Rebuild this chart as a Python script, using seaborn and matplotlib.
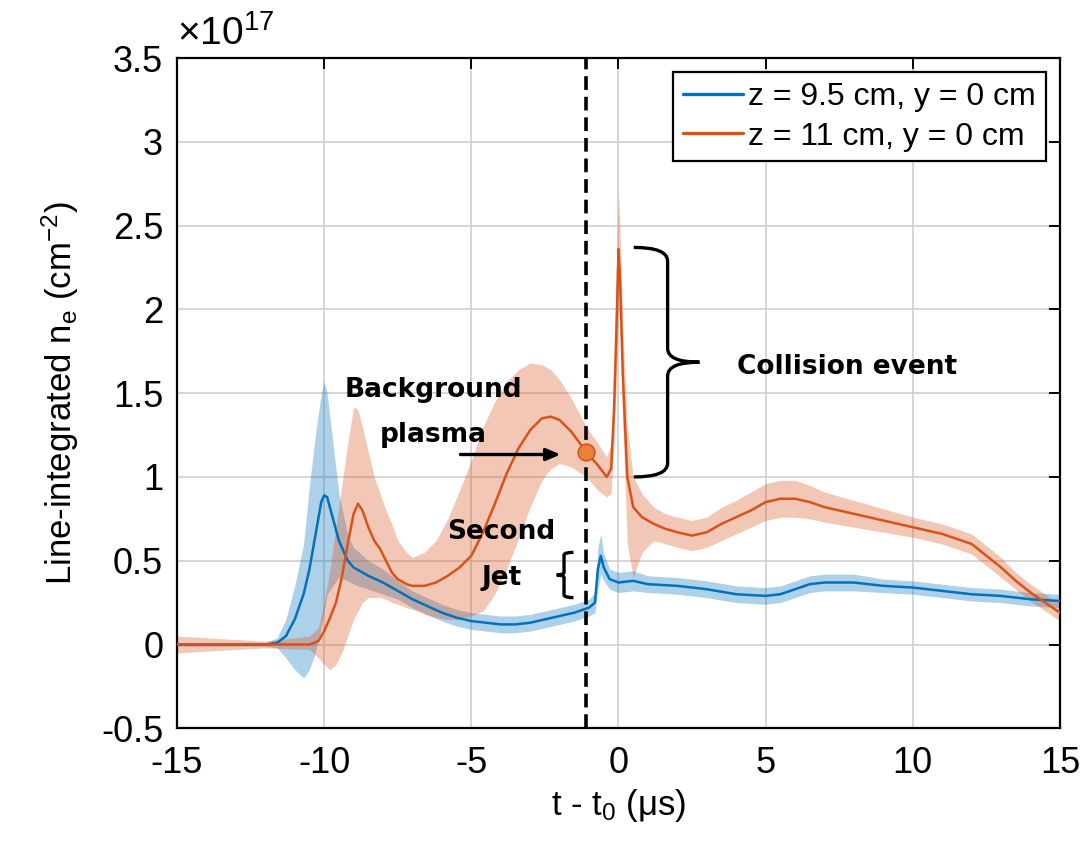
import numpy as np
import pandas as pd
import matplotlib
matplotlib.use("Agg")
import matplotlib.pyplot as plt
from matplotlib.path import Path
from matplotlib.patches import PathPatch
import seaborn as sns

# ---------------- data (units of 1e17 cm^-2) ----------------
t_blue = [-15, -12, -11.6, -11.3, -11.0, -10.7, -10.5, -10.3, -10.1, -10.0, -9.9, -9.7, -9.5,
          -9.2, -9.0, -8.5, -8.0, -7.5, -7.0, -6.5, -6.0, -5.5, -5.0, -4.5, -4.0, -3.5, -3.0,
          -2.5, -2.0, -1.5, -1.0, -0.8, -0.7, -0.6, -0.5, -0.3, 0.0, 0.5, 1.0, 2.0, 3.0, 4.0,
          5.0, 5.5, 6.0, 6.5, 7.0, 7.5, 8.0, 9.0, 10.0, 11.0, 12.0, 13.0, 14.0, 15.0]
ne_blue = [0.0, 0.0, 0.01, 0.05, 0.15, 0.30, 0.45, 0.65, 0.85, 0.89, 0.88, 0.75, 0.62,
           0.50, 0.46, 0.41, 0.37, 0.32, 0.27, 0.23, 0.19, 0.16, 0.14, 0.13, 0.12, 0.12, 0.13,
           0.15, 0.17, 0.19, 0.22, 0.25, 0.45, 0.53, 0.46, 0.39, 0.37, 0.38, 0.36, 0.35, 0.33, 0.30,
           0.29, 0.30, 0.33, 0.36, 0.37, 0.37, 0.37, 0.35, 0.34, 0.32, 0.30, 0.29, 0.27, 0.26]
lo_blue = [-0.01, -0.01, -0.02, -0.08, -0.15, -0.20, -0.15, -0.05, 0.10, 0.20, 0.30, 0.35, 0.40,
           0.38, 0.36, 0.33, 0.30, 0.27, 0.22, 0.18, 0.14, 0.11, 0.09, 0.08, 0.07, 0.07, 0.08,
           0.10, 0.12, 0.14, 0.17, 0.19, 0.33, 0.42, 0.38, 0.33, 0.31, 0.32, 0.31, 0.30, 0.28, 0.25,
           0.24, 0.25, 0.28, 0.31, 0.32, 0.32, 0.32, 0.31, 0.30, 0.28, 0.26, 0.25, 0.23, 0.22]
hi_blue = [0.01, 0.01, 0.04, 0.15, 0.35, 0.60, 0.95, 1.25, 1.50, 1.57, 1.50, 1.20, 0.90,
           0.65, 0.58, 0.50, 0.45, 0.38, 0.32, 0.28, 0.24, 0.21, 0.19, 0.18, 0.17, 0.17, 0.18,
           0.20, 0.22, 0.24, 0.27, 0.31, 0.58, 0.66, 0.54, 0.45, 0.43, 0.44, 0.41, 0.40, 0.38, 0.35,
           0.34, 0.35, 0.38, 0.41, 0.42, 0.42, 0.42, 0.39, 0.38, 0.36, 0.34, 0.33, 0.31, 0.30]

t_orange = [-15, -12, -10.5, -10.2, -10.0, -9.8, -9.6, -9.4, -9.2, -9.0, -8.85, -8.7, -8.5,
            -8.3, -8.1, -7.9, -7.7, -7.5, -7.2, -7.0, -6.6, -6.2, -5.8, -5.4, -5.0, -4.6, -4.2,
            -3.8, -3.4, -3.0, -2.6, -2.3, -2.0, -1.6, -1.1, -0.7, -0.4, -0.25, -0.15, -0.05, 0.0,
            0.05, 0.15, 0.3, 0.5, 0.8, 1.2, 1.6, 2.0, 2.5, 3.0, 3.5, 4.0, 4.5, 5.0, 5.5, 6.0, 6.5,
            7.0, 8.0, 9.0, 10.0, 10.5, 11.0, 11.5, 12.0, 12.5, 13.0, 13.5, 14.0, 14.5, 15.0]
ne_orange = [0.0, 0.0, 0.0, 0.02, 0.08, 0.16, 0.25, 0.40, 0.60, 0.78, 0.84, 0.80, 0.70,
             0.62, 0.57, 0.50, 0.43, 0.39, 0.36, 0.35, 0.35, 0.37, 0.41, 0.46, 0.53, 0.67, 0.84,
             1.02, 1.17, 1.28, 1.35, 1.36, 1.34, 1.27, 1.15, 1.07, 1.00, 1.05, 1.40, 2.00, 2.36,
             2.20, 1.60, 1.00, 0.82, 0.76, 0.72, 0.69, 0.67, 0.65, 0.67, 0.72, 0.76, 0.80, 0.85, 0.87,
             0.87, 0.85, 0.82, 0.78, 0.74, 0.70, 0.68, 0.66, 0.63, 0.60, 0.53, 0.46, 0.38, 0.31, 0.25, 0.19]
lo_orange = [-0.05, -0.02, -0.03, -0.08, -0.12, -0.15, -0.12, -0.05, 0.05, 0.15, 0.20, 0.25, 0.28,
             0.28, 0.28, 0.27, 0.25, 0.24, 0.22, 0.21, 0.18, 0.16, 0.15, 0.15, 0.17, 0.20, 0.30,
             0.45, 0.63, 0.82, 0.98, 1.05, 1.08, 1.06, 1.00, 0.92, 0.88, 0.90, 1.20, 1.70, 2.00,
             1.90, 1.30, 0.60, 0.40, 0.55, 0.62, 0.60, 0.58, 0.56, 0.58, 0.62, 0.66, 0.70, 0.74, 0.76,
             0.76, 0.75, 0.73, 0.70, 0.67, 0.64, 0.62, 0.60, 0.57, 0.54, 0.47, 0.40, 0.33, 0.26, 0.20, 0.14]
hi_orange = [0.05, 0.02, 0.05, 0.10, 0.25, 0.45, 0.70, 0.95, 1.20, 1.42, 1.40, 1.30, 1.15,
             1.00, 0.90, 0.80, 0.72, 0.62, 0.55, 0.52, 0.55, 0.62, 0.75, 0.92, 1.10, 1.30, 1.45,
             1.57, 1.64, 1.68, 1.67, 1.64, 1.58, 1.47, 1.30, 1.20, 1.12, 1.20, 1.70, 2.40, 2.70,
             2.50, 1.90, 1.30, 1.00, 0.90, 0.82, 0.78, 0.76, 0.74, 0.76, 0.82, 0.86, 0.91, 0.96, 0.98,
             0.98, 0.95, 0.91, 0.86, 0.81, 0.76, 0.74, 0.72, 0.69, 0.66, 0.59, 0.52, 0.43, 0.36, 0.30, 0.24]

series_labels = ["z = 9.5 cm, y = 0 cm", "z = 11 cm, y = 0 cm"]
series_colors = ["#0072BD", "#D95319"]

x_ticks = [-15, -10, -5, 0, 5, 10, 15]
y_ticks = [-0.5, 0, 0.5, 1, 1.5, 2, 2.5, 3, 3.5]

t_marker = -1.1          # time of the dashed line / marked point
ne_marker = 1.15

# ---------------- style ----------------
sns.set_theme(style="white")
plt.rcParams["font.family"] = ["Liberation Sans", "DejaVu Sans"]
plt.rcParams["mathtext.default"] = "regular"
plt.rcParams["axes.unicode_minus"] = False
plt.rcParams["text.color"] = "black"
plt.rcParams["axes.labelcolor"] = "black"
plt.rcParams["legend.labelcolor"] = "black"

fig = plt.figure(figsize=(10.86, 8.67), dpi=100)
ax = fig.add_axes([0.163, 0.160, 0.813, 0.773])

df = pd.concat([
    pd.DataFrame({"t": t_blue, "ne": ne_blue, "series": series_labels[0]}),
    pd.DataFrame({"t": t_orange, "ne": ne_orange, "series": series_labels[1]}),
], ignore_index=True)

# uncertainty bands
ax.fill_between(t_blue, lo_blue, hi_blue, color=series_colors[0], alpha=0.32, lw=0, zorder=1)
ax.fill_between(t_orange, lo_orange, hi_orange, color=series_colors[1], alpha=0.32, lw=0, zorder=1)

sns.lineplot(data=df, x="t", y="ne", hue="series", hue_order=series_labels,
             palette=series_colors, linewidth=1.8, ax=ax, zorder=3, sort=False,
             estimator=None)

ax.axvline(t_marker, color="black", lw=2.6, ls=(0, (3.8, 1.9)), zorder=4)
ax.plot([t_marker], [ne_marker], "o", ms=12, mfc="#E8823A", mec="#D95319", mew=1.2, zorder=5)

ax.set_xlim(-15, 15)
ax.set_ylim(-0.5, 3.5)
ax.set_xticks(x_ticks)
ax.set_yticks(y_ticks)
ax.set_xticklabels([f"{v:g}" for v in x_ticks])
ax.set_yticklabels([f"{v:g}" for v in y_ticks])
ax.grid(True, color="#d0d0d0", lw=1.2)
ax.set_axisbelow(True)
for s in ax.spines.values():
    s.set_visible(True)
    s.set_color("black")
    s.set_linewidth(1.6)
ax.tick_params(direction="in", length=8, width=1.4, top=True, right=True,
               labelsize=26, colors="black")
ax.tick_params(axis="x", pad=13)
ax.tick_params(axis="y", pad=10)

ax.set_xlabel("t - t$_0$ (μs)", fontsize=25, labelpad=4)
ax.set_ylabel("Line-integrated n$_e$ (cm$^{-2}$)", fontsize=25, labelpad=14)
ax.text(0.0, 1.008, "×10$^{17}$", transform=ax.transAxes, fontsize=28,
        ha="left", va="bottom")

# legend
handles, _ = ax.get_legend_handles_labels()
leg = ax.legend(handles=handles, labels=series_labels, loc="upper right", fontsize=23,
                frameon=True, fancybox=False, edgecolor="black", framealpha=1,
                handlelength=1.9, handletextpad=0.15, borderpad=0.3,
                labelspacing=0.3, borderaxespad=0.45)
leg.get_frame().set_linewidth(1.6)
for h in leg.get_lines():
    h.set_linewidth(2.4)

# annotations
bold = dict(family="DejaVu Sans", fontweight="bold", fontsize=19, color="black")
ax.text(-6.28, 1.48, "Background", ha="center", va="baseline", **bold)
ax.text(-6.28, 1.206, "plasma", ha="center", va="baseline", **bold)
ax.text(-3.97, 0.627, "Second", ha="center", va="baseline", **bold)
ax.text(-3.97, 0.358, "Jet", ha="center", va="baseline", **bold)
ax.text(4.03, 1.612, "Collision event", ha="left", va="baseline", **bold)

ax.annotate("", xy=(-1.97, 1.134), xytext=(-5.37, 1.134),
            arrowprops=dict(arrowstyle="-|>,head_length=0.7,head_width=0.3",
                            color="black", lw=2.4, shrinkA=0, shrinkB=0), zorder=6)


def brace(x_end, x_mid, x_tip, y_bot, y_top):
    """Curly brace path; x_tip side is where the point is."""
    ym = 0.5 * (y_bot + y_top)
    ry = 0.06 * (y_top - y_bot)
    verts = [(x_end, y_top), (x_mid, y_top), (x_mid, y_top - ry),
             (x_mid, ym + ry), (x_mid, ym), (x_tip, ym),
             (x_mid, ym), (x_mid, ym - ry),
             (x_mid, y_bot + ry), (x_mid, y_bot), (x_end, y_bot)]
    codes = [Path.MOVETO, Path.CURVE3, Path.CURVE3,
             Path.LINETO, Path.CURVE3, Path.CURVE3,
             Path.CURVE3, Path.CURVE3,
             Path.LINETO, Path.CURVE3, Path.CURVE3]
    return PathPatch(Path(verts, codes), fill=False, lw=2.4, ec="black",
                     capstyle="butt", zorder=6)


ax.add_patch(brace(0.52, 1.67, 2.75, 1.0, 2.37))
ax.add_patch(brace(-1.53, -1.85, -2.1, 0.28, 0.55))

fig.savefig("out.png", dpi=100)
